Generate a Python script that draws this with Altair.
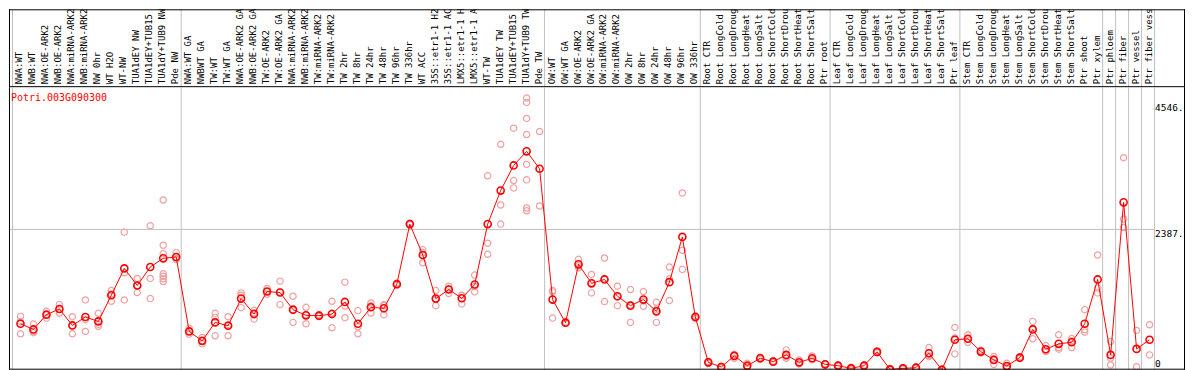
import altair as alt
import pandas as pd

gene = "Potri.003G090300"

labels = [
    "NWA:WT", "NWB:WT", "NWA:OE-ARK2", "NWB:OE-ARK2", "NWA:miRNA-ARK2", "NWB:miRNA-ARK2",
    "NW 0hr", "WT H2O", "WT-NW", "TUA1dEY NW", "TUA1dEY+TUB15 NW", "TUA1dY+TUB9 NW", "Pde NW",
    "NWA:WT GA", "NWBWT GA", "TW:WT", "TW:WT GA", "NWA:OE-ARK2 GA", "NWB:OE-ARK2 GA",
    "TW:OE-ARK2", "TW:OE-ARK2 GA", "NWA:miRNA-ARK2", "NWB:miRNA-ARK2", "TW:miRNA-ARK2",
    "TW:miRNA-ARK2", "TW 2hr", "TW 8hr", "TW 24hr", "TW 48hr", "TW 96hr", "TW 336hr",
    "WT ACC", "35S::etr1-1 H2O", "35S::etr1-1 ACC", "LMX5::etr1-1 H2O", "LMX5::etr1-1 ACC",
    "WT-TW", "TUA1dEY TW", "TUA1dEY+TUB15 TW", "TUA1dY+TUB9 TW", "Pde TW",
    "OW:WT", "OW:WT GA", "OW:OE-ARK2", "OW:OE-ARK2 GA", "OW:miRNA-ARK2", "OW:miRNA-ARK2",
    "OW 2hr", "OW 8hr", "OW 24hr", "OW 48hr", "OW 96hr", "OW 336hr",
    "Root CTR", "Root LongCold", "Root LongDrought", "Root LongHeat", "Root LongSalt",
    "Root ShortCold", "Root ShortDrought", "Root ShortHeat", "Root ShortSalt", "Ptr root",
    "Leaf CTR", "Leaf LongCold", "Leaf LongDrought", "Leaf LongHeat", "Leaf LongSalt",
    "Leaf ShortCold", "Leaf ShortDrought", "Leaf ShortHeat", "Leaf ShortSalt", "Ptr leaf",
    "Stem CTR", "Stem LongCold", "Stem LongDrought", "Stem LongHeat", "Stem LongSalt",
    "Stem ShortCold", "Stem ShortDrought", "Stem ShortHeat", "Stem ShortSalt", "Ptr shoot",
    "Ptr xylem", "Ptr phloem", "Ptr fiber", "Ptr vessel", "Ptr fiber vessel",
]

means = [
    782, 685, 936, 1033, 753, 896, 822, 1267, 1724, 1433, 1747, 1895, 1918,
    651, 491, 805, 748, 1210, 947, 1330, 1313, 1022, 925, 919, 947, 1153, 782, 1062,
    1045, 1455, 2478, 1952, 1210, 1364, 1216, 1450, 2478, 3048, 3476, 3716, 3419,
    1193, 800, 1793, 1470, 1536, 1250, 1090, 1193, 993, 1490, 2260, 896,
    125, 46, 235, 68, 194, 137, 252, 125, 194, 91,
    68, 22, 68, 303, 5, 22, 34, 279, 0, 509,
    526, 308, 166, 63, 205, 685, 348, 440, 467, 782, 1536,
    252, 2848, 354, 509,
]

reps = [
    [907, 822, 611], [776, 650, 630], [993, 936, 878], [1107, 1030, 964],
    [902, 748, 611], [1187, 851, 651], [960, 770, 736], [1347, 1290, 1164],
    [2341, 1649, 1187], [1553, 1433, 1313], [2449, 1553, 1210],
    [2888, 2118, 1975, 1632, 1590, 1547, 1500], [1992, 1885, 1878],
    [707, 651, 604], [548, 491, 440], [959, 890, 577], [902, 765, 577],
    [1307, 1267, 1056], [1010, 970, 861], [1382, 1330, 1284], [1507, 1325, 1107],
    [1250, 1010, 805], [1062, 930, 782], [935, 919, 905], [1164, 964, 713],
    [1490, 1084, 885], [1005, 730, 611], [1135, 1087, 964], [1107, 1092, 936],
    [1470, 1455, 1440], [2490, 2478, 2466], [2043, 1993, 1820], [1347, 1193, 1090],
    [1421, 1375, 1296], [1267, 1262, 1119], [1610, 1416, 1324], [3300, 2152, 1964],
    [3836, 2803, 2478], [4110, 3219, 3094],
    [4623, 4549, 4276, 4002, 3493, 3231, 2752, 2705], [4053, 2786],
    [1347, 1324, 878], [810, 800, 790], [1878, 1766, 1735], [1621, 1473, 1307],
    [1901, 1548, 1159], [1421, 1239, 1090], [1364, 1101, 805], [1330, 1170, 1079],
    [1147, 1027, 805], [1747, 1547, 1176], [3008, 2032, 1707], [920, 896, 872],
    [140, 125, 110], [60, 46, 32], [262, 249, 194], [108, 60, 36], [211, 194, 177],
    [150, 137, 124], [337, 225, 194], [166, 110, 99], [234, 180, 168], [100, 91, 82],
    [80, 68, 56], [40, 22, 4], [80, 68, 56], [320, 303, 286], [10, 5, 0],
    [35, 22, 9], [45, 34, 23], [377, 237, 223], [5, 0, 0], [719, 540, 269],
    [594, 520, 465], [330, 308, 286], [223, 184, 91], [108, 50, 31], [220, 205, 190],
    [822, 707, 526], [411, 325, 308], [594, 377, 350], [530, 494, 377],
    [1022, 680, 639], [1952, 1392, 1307], [479, 197, 80], [3608, 2563, 2420],
    [668, 51], [765, 252],
]

group_sizes = [13, 28, 12, 10, 10, 11, 1, 1, 1, 1]
axis_values = [4546, 2387, 0]
grid_values = [2387]

# ---- layout ----
STEP = 13
W = 1178
H_HEAD = 78
H_PLOT = 283
X0 = -11.5 / STEP
x_dom = [X0, X0 + W / STEP]
y_dom = [0, 4808]
FONT = "DejaVu Sans Mono"
LAB_X = 1148

mean_df = pd.DataFrame({"idx": list(range(len(labels))), "label": labels, "value": means})
rep_df = pd.DataFrame([{"idx": i, "value": v} for i, r in enumerate(reps) for v in r])
starts = []
s = 0
for g in group_sizes:
    starts.append(s)
    s += g
starts.append(s)
grid_df = pd.DataFrame({"pos": [b - 8 / STEP for b in starts]})
axis_df = pd.DataFrame({"value": axis_values,
                        "text": [f"{v}." if v else "0" for v in axis_values]})
hgrid_df = pd.DataFrame({"value": grid_values})
one = pd.DataFrame({"k": [0]})

xs = alt.Scale(domain=x_dom, nice=False, zero=False)
ys = alt.Scale(domain=y_dom, nice=False, zero=False)
X_IDX = alt.X("idx:Q", scale=xs, axis=None)
Y_VAL = alt.Y("value:Q", scale=ys, axis=None)


def frame_rule(**enc):
    return alt.Chart(one).mark_rule(color="black", strokeWidth=1).encode(**enc)


vgrid = alt.Chart(grid_df).mark_rule(color="#c0c0c0", strokeWidth=1).encode(
    x=alt.X("pos:Q", scale=xs, axis=None)
)

header_text = alt.Chart(mean_df).mark_text(
    angle=270, align="left", baseline="middle", font=FONT, fontSize=9,
    color="black", clip=True, dy=-1
).encode(x=X_IDX, y=alt.value(H_HEAD - 3), text="label:N")

header = alt.layer(
    vgrid, header_text,
    frame_rule(x=alt.value(0.5)),
    frame_rule(x=alt.value(W - 0.5)),
    frame_rule(y=alt.value(0.5)),
    frame_rule(y=alt.value(H_HEAD - 0.5)),
).properties(width=W, height=H_HEAD)

hgrid = alt.Chart(hgrid_df).mark_rule(color="#c0c0c0", strokeWidth=1).encode(
    y=Y_VAL, x=alt.value(0), x2=alt.value(LAB_X)
)

rep_pts = alt.Chart(rep_df).mark_point(
    shape="circle", filled=False, color="#f0a0a0", size=40, strokeWidth=1.2,
    opacity=1, clip=True
).encode(x=X_IDX, y=Y_VAL)

line = alt.Chart(mean_df).mark_line(color="#ff0000", strokeWidth=1, clip=True).encode(
    x=X_IDX, y=Y_VAL
)

mean_pts = alt.Chart(mean_df).mark_point(
    shape="circle", filled=False, color="#ff0000", size=50, strokeWidth=1.6,
    opacity=1, clip=True
).encode(x=X_IDX, y=Y_VAL)

title = alt.Chart(pd.DataFrame({"t": [gene]})).mark_text(
    align="left", baseline="middle", font=FONT, fontSize=10, color="#ff0000"
).encode(x=alt.value(2), y=alt.value(11), text="t:N")

ylab_top = alt.Chart(axis_df).transform_filter("datum.value > 0").mark_text(
    align="left", baseline="top", font=FONT, fontSize=9.5, color="black"
).encode(x=alt.value(LAB_X), y=Y_VAL, text="text:N")

ylab_zero = alt.Chart(axis_df).transform_filter("datum.value == 0").mark_text(
    align="left", baseline="bottom", font=FONT, fontSize=9.5, color="black", dy=-1
).encode(x=alt.value(LAB_X), y=Y_VAL, text="text:N")

plot = alt.layer(
    vgrid, hgrid, rep_pts, line, mean_pts, title, ylab_top, ylab_zero,
    frame_rule(x=alt.value(0.5)),
    frame_rule(x=alt.value(W - 0.5)),
    frame_rule(y=alt.value(H_PLOT - 0.5)),
).properties(width=W, height=H_PLOT)

chart = alt.vconcat(header, plot, spacing=0, bounds="flush").properties(
    padding=0
).configure_view(stroke=None)

chart.save("out.html", embed_options={"renderer": "svg", "actions": False})
